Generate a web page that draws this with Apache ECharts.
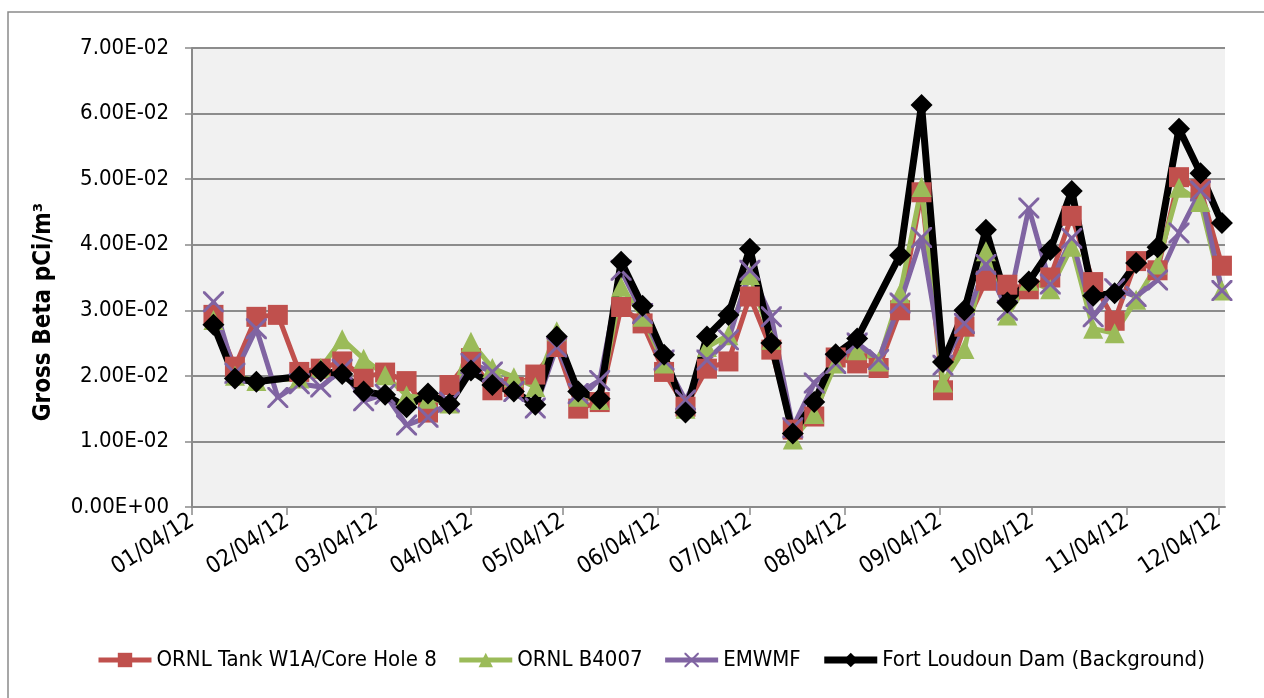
<!DOCTYPE html>
<html>
<head>
<meta charset="utf-8">
<title>Gross Beta</title>
<script src="https://cdn.jsdelivr.net/npm/echarts@6/dist/echarts.min.js"></script>
<style>
  html, body { margin: 0; padding: 0; background: #fff; }
  #chart { width: 1264px; height: 698px; }
</style>
</head>
<body>
<div id="chart"></div>
<script>
// weekly sample dates
const sampleDates = [
  '2012-01-11', '2012-01-18', '2012-01-25', '2012-02-01', '2012-02-08', '2012-02-15',
  '2012-02-22', '2012-02-29', '2012-03-07', '2012-03-14', '2012-03-21', '2012-03-28',
  '2012-04-04', '2012-04-11', '2012-04-18', '2012-04-25', '2012-05-02', '2012-05-09',
  '2012-05-16', '2012-05-23', '2012-05-30', '2012-06-06', '2012-06-13', '2012-06-20',
  '2012-06-27', '2012-07-04', '2012-07-11', '2012-07-18', '2012-07-25', '2012-08-01',
  '2012-08-08', '2012-08-15', '2012-08-22', '2012-08-29', '2012-09-05', '2012-09-12',
  '2012-09-19', '2012-09-26', '2012-10-03', '2012-10-10', '2012-10-17', '2012-10-24',
  '2012-10-31', '2012-11-07', '2012-11-14', '2012-11-21', '2012-11-28', '2012-12-05'
]

const tankW1A = [
  0.0293, 0.0214, 0.0290, 0.0293, 0.0206, 0.0211, 0.0222, 0.0198, 0.0205, 0.0192, 0.0144, 0.0186,
  0.0227, 0.0178, 0.0183, 0.0202, 0.0244, 0.0150, 0.0160, 0.0305, 0.0280, 0.0206, 0.0153, 0.0211,
  0.0222, 0.0321, 0.0240, 0.0118, 0.0138, 0.0228, 0.0219, 0.0212, 0.0300, 0.0480, 0.0178, 0.0275,
  0.0345, 0.0339, 0.0332, 0.0350, 0.0444, 0.0343, 0.0284, 0.0375, 0.0361, 0.0503, 0.0485, 0.0368
]
const b4007 = [
  0.0285, 0.0200, 0.0192, null, 0.0196, 0.0212, 0.0256, 0.0226, 0.0201, 0.0170, 0.0165, 0.0158,
  0.0252, 0.0212, 0.0198, 0.0183, 0.0268, 0.0168, 0.0163, 0.0336, 0.0290, 0.0219, 0.0150, 0.0244,
  0.0262, 0.0354, 0.0255, 0.0103, 0.0142, 0.0219, 0.0239, 0.0222, 0.0326, 0.0488, 0.0190, 0.0241,
  0.0390, 0.0292, 0.0345, 0.0332, 0.0397, 0.0272, 0.0265, 0.0316, 0.0370, 0.0487, 0.0465, 0.0330
]
const emwmf = [
  0.0313, 0.0204, 0.0272, 0.0167, 0.0188, 0.0183, 0.0210, 0.0162, 0.0172, 0.0125, 0.0137, 0.0160,
  0.0219, 0.0206, 0.0176, 0.0151, 0.0244, 0.0173, 0.0193, 0.0361, 0.0295, 0.0224, 0.0163, 0.0224,
  0.0255, 0.0361, 0.0290, 0.0121, 0.0189, 0.0219, 0.0250, 0.0225, 0.0311, 0.0411, 0.0216, 0.0280,
  0.0370, 0.0300, 0.0456, 0.0340, 0.0410, 0.0290, 0.0333, 0.0321, 0.0346, 0.0418, 0.0482, 0.0330
]
const fortLoudoun = [
  0.0278, 0.0196, 0.0191, null, 0.0199, 0.0207, 0.0203, 0.0176, 0.0171, 0.0152, 0.0173, 0.0157,
  0.0208, 0.0186, 0.0176, 0.0156, 0.0260, 0.0176, 0.0165, 0.0374, 0.0307, 0.0232, 0.0144, 0.0260,
  0.0293, 0.0394, 0.0250, 0.0112, 0.0160, 0.0233, 0.0257, null, 0.0384, 0.0613, 0.0221, 0.0300,
  0.0423, 0.0312, 0.0344, 0.0392, 0.0482, 0.0322, 0.0326, 0.0372, 0.0396, 0.0577, 0.0509, 0.0433
]

const tickDates = [
  '2012-01-04', '2012-02-04', '2012-03-04', '2012-04-04', '2012-05-04', '2012-06-04',
  '2012-07-04', '2012-08-04', '2012-09-04', '2012-10-04', '2012-11-04', '2012-12-04'
]

const FONT = '"Liberation Sans Narrow", "DejaVu Sans Condensed", sans-serif'

function toTime (s) {
  let p = s.split('-')
  return new Date(+p[0], +p[1] - 1, +p[2]).getTime()
}
function pairs (values) {
  return sampleDates.map((d, i) => [toTime(d), values[i]])
}
function sci (v) {
  let parts = Number(v).toExponential(2).split('e')
  let exp = parseInt(parts[1], 10)
  let sign = exp < 0 ? '-' : '+'
  let abs = Math.abs(exp)
  return parts[0] + 'E' + sign + (abs < 10 ? '0' + abs : abs)
}
function mdy (t) {
  let d = new Date(t)
  let mm = d.getMonth() + 1
  let dd = d.getDate()
  return (mm < 10 ? '0' + mm : mm) + '/' + (dd < 10 ? '0' + dd : dd) + '/' + String(d.getFullYear()).slice(2)
}

const tickTimes = tickDates.map(toTime)
const crossPath = 'path://M0,0 L2,0 L10,8 L18,0 L20,0 L20,2 L12,10 L20,18 L20,20 L18,20 L10,12 L2,20 L0,20 L0,18 L8,10 L0,2 Z'

let myChart = echarts.init(document.getElementById('chart'))
myChart.setOption({
  animation: false,
  textStyle: { fontFamily: FONT },
  graphic: [
    {
      type: 'rect',
      shape: { x: 8, y: 12, width: 1270, height: 700 },
      style: { fill: 'none', stroke: '#8a8a8a', lineWidth: 1.5 },
      z: -1
    },
    {
      // y axis title, Excel puts it a bit below the plot centre
      type: 'text',
      x: 44,
      y: 312,
      rotation: Math.PI / 2,
      style: {
        text: 'Gross Beta pCi/m³',
        font: 'bold 24px ' + FONT,
        fill: '#000',
        textAlign: 'center',
        textVerticalAlign: 'middle'
      }
    }
  ],
  grid: {
    left: 192,
    right: 39,
    top: 48,
    bottom: 191,
    show: true,
    backgroundColor: '#f1f1f1',
    borderWidth: 0
  },
  legend: {
    bottom: 22,
    left: 91,
    itemWidth: 53,
    itemHeight: 18,
    itemGap: 20,
    lineStyle: { width: 'inherit' },
    textStyle: { fontSize: 22, color: '#000', fontFamily: FONT },
    data: ['ORNL Tank W1A/Core Hole 8', 'ORNL B4007', 'EMWMF', 'Fort Loudoun Dam (Background)']
  },
  xAxis: {
    type: 'value',
    min: toTime('2012-01-04'),
    max: toTime('2012-12-06'),
    axisLine: { lineStyle: { color: '#8a8a8a', width: 2 } },
    axisTick: { show: true, length: 8, customValues: tickTimes, lineStyle: { color: '#8a8a8a', width: 1.5 } },
    splitLine: { show: false },
    axisLabel: {
      customValues: tickTimes,
      rotate: 33,
      fontSize: 23,
      color: '#000',
      margin: 12,
      formatter: (v) => mdy(v)
    }
  },
  yAxis: {
    type: 'value',
    min: 0,
    max: 0.07,
    interval: 0.01,
    axisLine: { show: true, lineStyle: { color: '#8a8a8a', width: 2 } },
    axisTick: { show: true, length: 7, lineStyle: { color: '#8a8a8a', width: 1.5 } },
    splitLine: { lineStyle: { color: '#8c8c8c', width: 2 } },
    axisLabel: {
      fontSize: 22,
      color: '#000',
      margin: 23,
      formatter: (v) => sci(v)
    }
  },
  series: [
    {
      name: 'ORNL Tank W1A/Core Hole 8',
      type: 'line',
      data: pairs(tankW1A),
      connectNulls: true,
      symbol: 'rect',
      symbolSize: 20,
      color: '#C0504D',
      lineStyle: { width: 5 }
    },
    {
      name: 'ORNL B4007',
      type: 'line',
      data: pairs(b4007),
      connectNulls: true,
      symbol: 'triangle',
      symbolSize: 20,
      color: '#9BBB59',
      lineStyle: { width: 5 }
    },
    {
      name: 'EMWMF',
      type: 'line',
      data: pairs(emwmf),
      connectNulls: true,
      symbol: crossPath,
      symbolSize: 21,
      color: '#8064A2',
      lineStyle: { width: 5 }
    },
    {
      name: 'Fort Loudoun Dam (Background)',
      type: 'line',
      data: pairs(fortLoudoun),
      connectNulls: true,
      symbol: 'diamond',
      symbolSize: 22,
      color: '#000000',
      lineStyle: { width: 7 }
    }
  ]
})
</script>
</body>
</html>
